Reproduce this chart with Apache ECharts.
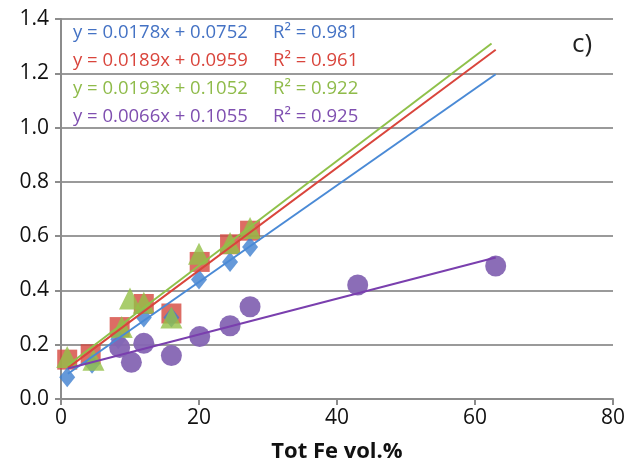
<!DOCTYPE html>
<html><head><meta charset="utf-8">
<script src="https://cdn.jsdelivr.net/npm/echarts@6/dist/echarts.min.js"></script>
<style>html,body{margin:0;padding:0;background:#fff}#c{width:626px;height:466px}</style>
</head><body><div id="c"></div>
<script>
// Data
const blueX = [0.9, 4.5, 8.3, 12.0, 16.0, 20.0, 24.5, 27.4];
const blueY = [0.08, 0.13, 0.22, 0.30, 0.30, 0.44, 0.505, 0.56];
const redX = [0.9, 4.3, 8.5, 12.0, 16.0, 20.1, 24.5, 27.4];
const redY = [0.145, 0.165, 0.265, 0.35, 0.315, 0.505, 0.57, 0.62];
const greenX = [0.9, 4.7, 8.8, 10.0, 12.0, 16.0, 20.0, 24.5, 27.4];
const greenY = [0.155, 0.145, 0.265, 0.37, 0.355, 0.30, 0.535, 0.575, 0.63];
const purpleX = [8.5, 10.2, 12.0, 16.0, 20.1, 24.5, 27.4, 43.0, 63.0];
const purpleY = [0.19, 0.135, 0.205, 0.16, 0.23, 0.27, 0.34, 0.42, 0.49];
const slopes = [0.0178, 0.0189, 0.0193, 0.0066];
const intercepts = [0.0752, 0.0959, 0.1052, 0.1055];
const trendStart = [1, 1, 1, 1];
const trendEnd = [63, 63, 62.4, 63];
const eqLabels = ['y = 0.0178x + 0.0752', 'y = 0.0189x + 0.0959', 'y = 0.0193x + 0.1052', 'y = 0.0066x + 0.1055'];
const r2Labels = ['R² = 0.981', 'R² = 0.961', 'R² = 0.922', 'R² = 0.925'];
const xTicks = [0, 20, 40, 60, 80];
const yTicks = [0.0, 0.2, 0.4, 0.6, 0.8, 1.0, 1.2, 1.4];

const markerColors = ['#3f7fcf', '#d4473d', '#94c047', '#8565b3'];
const lineColors = ['#4a8ad6', '#d9453c', '#8fc14a', '#7a3fae'];
const textColors = ['#4472c4', '#d9453c', '#8fbb4a', '#7f4fb0'];

const zip = (xs, ys) => xs.map((x, i) => [x, ys[i]]);
const font = '"Open Sans", "Liberation Sans", sans-serif';

const series = [
  {type: 'scatter', data: zip(redX, redY), symbol: 'rect', symbolSize: 20, itemStyle: {color: markerColors[1]}, z: 2},
  {type: 'scatter', data: zip(blueX, blueY), symbol: 'diamond', symbolSize: [16, 20], itemStyle: {color: markerColors[0]}, z: 3},
  {type: 'scatter', data: zip(greenX, greenY), symbol: 'triangle', symbolSize: 22, itemStyle: {color: markerColors[2]}, z: 4},
  {type: 'scatter', data: zip(purpleX, purpleY), symbol: 'circle', symbolSize: 21, itemStyle: {color: markerColors[3], opacity: 0.95}, z: 5}
];
slopes.forEach((m, i) => {
  series.push({
    type: 'line', showSymbol: false, symbol: 'none', silent: true, z: 6,
    lineStyle: {color: lineColors[i], width: 2},
    data: [[trendStart[i], m * trendStart[i] + intercepts[i]], [trendEnd[i], m * trendEnd[i] + intercepts[i]]]
  });
});

const graphics = [];
eqLabels.forEach((t, i) => {
  graphics.push({type: 'text', left: 73, top: 23 + i * 28, z: 10, style: {text: t, fill: textColors[i], font: '18.5px ' + font}});
  graphics.push({type: 'text', left: 273, top: 23 + i * 28, z: 10, style: {text: r2Labels[i], fill: textColors[i], font: '18.5px ' + font}});
});
graphics.push({type: 'text', left: 572, top: 32, style: {text: 'c)', fill: '#222', font: '26px ' + font}});

const chart = echarts.init(document.getElementById('c'), null, {renderer: 'canvas'});
chart.setOption({
  animation: false,
  backgroundColor: '#fff',
  grid: {left: 61, right: 13, top: 19, bottom: 67, containLabel: false, outerBoundsMode: 'none'},
  xAxis: {
    type: 'value', min: xTicks[0], max: xTicks[xTicks.length - 1], interval: 20,
    name: 'Tot Fe vol.%', nameLocation: 'middle', nameGap: 42,
    nameTextStyle: {fontSize: 22, fontWeight: 'bold', color: '#111', fontFamily: font},
    axisLine: {lineStyle: {color: '#8c8c8c', width: 2}},
    axisTick: {show: true, length: 6, lineStyle: {color: '#8c8c8c', width: 2}},
    axisLabel: {fontSize: 21, color: '#111', fontFamily: font, margin: 9},
    splitLine: {show: false}
  },
  yAxis: {
    type: 'value', min: yTicks[0], max: yTicks[yTicks.length - 1], interval: 0.2,
    name: 'Band Depth', nameLocation: 'middle', nameGap: 68,
    nameTextStyle: {fontSize: 20, fontWeight: 'bold', color: '#111', fontFamily: font},
    axisLine: {show: true, lineStyle: {color: '#8c8c8c', width: 2}},
    axisTick: {show: true, length: 6, lineStyle: {color: '#8c8c8c', width: 2}},
    axisLabel: {fontSize: 21, color: '#111', fontFamily: font, margin: 12, formatter: v => v.toFixed(1)},
    splitLine: {show: true, lineStyle: {color: '#9a9a9a', width: 2}}
  },
  series: series,
  graphic: graphics
});
</script>
</body></html>
